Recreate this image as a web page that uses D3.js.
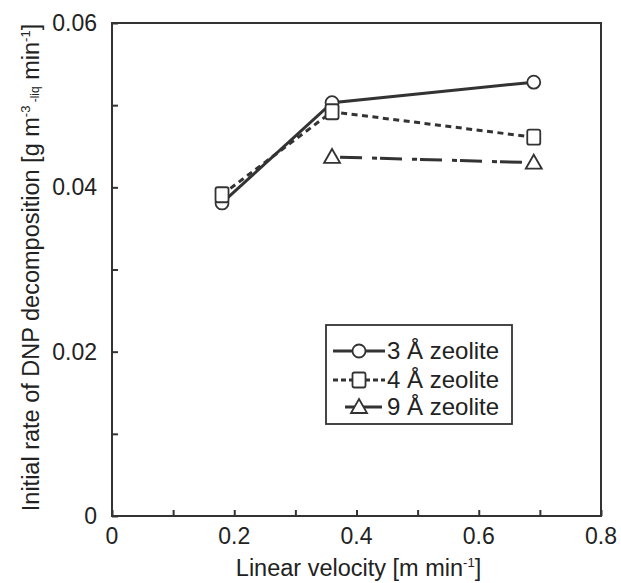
<!DOCTYPE html>
<html><head><meta charset="utf-8">
<script src="https://cdn.jsdelivr.net/npm/d3@7"></script>
<style>body{margin:0;background:#fff}svg{display:block}text{font-family:"Liberation Sans",Arial,sans-serif;fill:#222}</style>
</head><body><svg id="c" width="621" height="583"></svg>
<script>
const xVals3 = [0.18, 0.36, 0.69];
const y3 = [0.0381, 0.0503, 0.0528];
const xVals4 = [0.18, 0.36, 0.69];
const y4 = [0.0391, 0.0492, 0.0461];
const xVals9 = [0.36, 0.69];
const y9 = [0.0437, 0.0430];
const seriesNames = ["3 Å zeolite", "4 Å zeolite", "9 Å zeolite"];
const xTicks = [0, 0.2, 0.4, 0.6, 0.8];
const yTicks = [0, 0.02, 0.04, 0.06];

const svg = d3.select("#c");
const L = 112, R = 601, T = 23, B = 516;
const x = d3.scaleLinear().domain([0, 0.8]).range([L, R]);
const y = d3.scaleLinear().domain([0, 0.06]).range([B, T]);
const ink = "#333";

svg.append("rect").attr("x", L).attr("y", T).attr("width", R - L).attr("height", B - T)
  .attr("fill", "none").attr("stroke", ink).attr("stroke-width", 2);

const xAxis = svg.append("g").attr("transform", `translate(0,${B})`)
  .call(d3.axisBottom(x).tickValues(d3.range(0, 0.81, 0.1)).tickSize(-6).tickFormat(d => ""));
const yAxis = svg.append("g").attr("transform", `translate(${L},0)`)
  .call(d3.axisLeft(y).tickValues(d3.range(0, 0.061, 0.01)).tickSize(-6).tickFormat(d => ""));
[xAxis, yAxis].forEach(g => {
  g.select(".domain").remove();
  g.selectAll("line").attr("stroke", ink).attr("stroke-width", 2);
});

svg.append("g").selectAll("text").data(xTicks).join("text")
  .attr("x", d => x(d)).attr("y", 544).attr("text-anchor", "middle")
  .attr("font-size", 23).text(d => d === 0 ? "0" : d.toFixed(1));
svg.append("g").selectAll("text").data(yTicks).join("text")
  .attr("x", 97).attr("y", d => y(d) + 8).attr("text-anchor", "end")
  .attr("font-size", 23).text(d => d === 0 ? "0" : d.toFixed(2));

const xt = svg.append("text").attr("x", (L + R) / 2 + 2).attr("y", 576).attr("text-anchor", "middle").attr("font-size", 23.5);
xt.append("tspan").text("Linear velocity [m min");
xt.append("tspan").attr("font-size", 13).attr("dy", -9).text("-1");
xt.append("tspan").attr("dy", 9).text("]");

const yt = svg.append("text").attr("transform", `translate(39,${(T + B) / 2 - 2}) rotate(-90)`)
  .attr("text-anchor", "middle").attr("font-size", 23.5);
yt.append("tspan").text("Initial rate of DNP decomposition [g m");
yt.append("tspan").attr("font-size", 13).attr("dy", -9).text("-3");
yt.append("tspan").attr("font-size", 12).attr("dy", 9).text(" -liq");
yt.append("tspan").text(" min");
yt.append("tspan").attr("font-size", 13).attr("dy", -9).text("-1");
yt.append("tspan").attr("dy", 9).text("]");

const series = [
  {xs: xVals3, ys: y3, dash: null, marker: "circle"},
  {xs: xVals4, ys: y4, dash: "6,4.5", marker: "square"},
  {xs: xVals9, ys: y9, dash: "5,3,22,10", marker: "triangle"}
];
const line = d3.line().x(d => x(d[0])).y(d => y(d[1]));
function drawMarker(g, type, cx, cy) {
  if (type === "circle") g.append("circle").attr("cx", cx).attr("cy", cy).attr("r", 6.5);
  else if (type === "square") g.append("rect").attr("x", cx - 6.5).attr("y", cy - 7.5).attr("width", 13).attr("height", 15).attr("rx", 2);
  else g.append("path").attr("d", `M${cx},${cy - 8}L${cx + 8},${cy + 6}L${cx - 8},${cy + 6}Z`);
}
series.forEach(s => {
  const pts = s.xs.map((v, i) => [v, s.ys[i]]);
  svg.append("path").datum(pts).attr("d", line).attr("fill", "none").attr("stroke", ink)
    .attr("stroke-width", 3).attr("stroke-dasharray", s.dash);
});
series.forEach(s => {
  const g = svg.append("g").attr("fill", "#fff").attr("stroke", ink).attr("stroke-width", 1.8);
  s.xs.forEach((v, i) => drawMarker(g, s.marker, x(v), y(s.ys[i])));
});

const lg = svg.append("g");
lg.append("rect").attr("x", 326).attr("y", 325).attr("width", 186).attr("height", 99)
  .attr("fill", "#fff").attr("stroke", ink).attr("stroke-width", 1.8);
const rowsY = [351, 380, 407];
const lineStarts = [333, 333, 345];
const lineEnds = [385, 385, 382];
series.forEach((s, i) => {
  lg.append("line").attr("x1", lineStarts[i]).attr("x2", lineEnds[i]).attr("y1", rowsY[i]).attr("y2", rowsY[i])
    .attr("stroke", ink).attr("stroke-width", 3).attr("stroke-dasharray", i === 1 ? "5,3" : null);
  const g = lg.append("g").attr("fill", "#fff").attr("stroke", ink).attr("stroke-width", 1.8);
  drawMarker(g, s.marker, 359, rowsY[i]);
  lg.append("text").attr("x", 387).attr("y", rowsY[i] + 8).attr("font-size", 24).text(seriesNames[i]);
});
</script></body></html>
